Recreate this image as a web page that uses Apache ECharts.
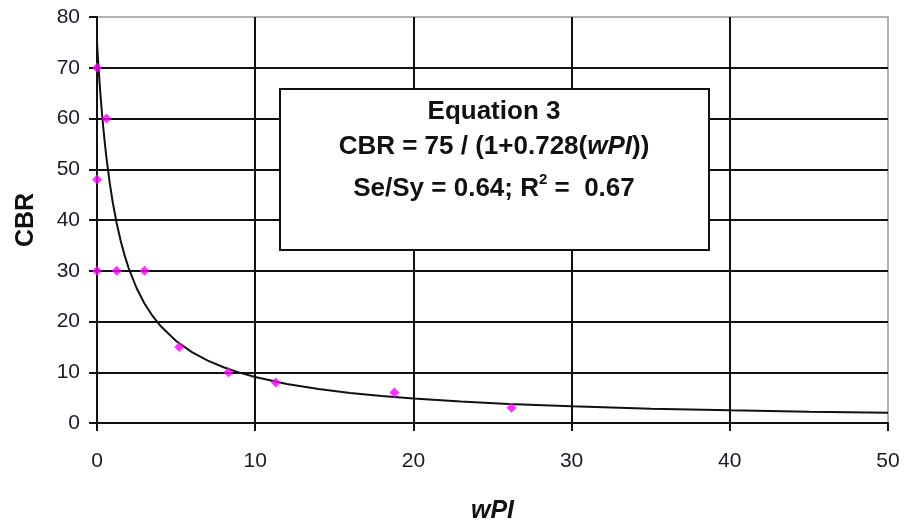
<!DOCTYPE html>
<html>
<head>
<meta charset="utf-8">
<script src="https://cdn.jsdelivr.net/npm/echarts@6/dist/echarts.min.js"></script>
<style>html,body{margin:0;padding:0;background:#fff;}#c{width:904px;height:525px;}</style>
</head>
<body>
<div id="c"></div>
<script>
// Measured data points (wPI, CBR)
var pointsX = [0, 0.6, 0, 0, 1.25, 3, 5.2, 8.3, 11.3, 18.8, 26.2];
var pointsY = [70, 60, 48, 30, 30, 30, 15, 10, 8, 6, 3];
// Fitted curve (Equation 3)
var curveX = [0, 0.05, 0.1, 0.2, 0.3, 0.4, 0.5, 0.6, 0.8, 1, 1.25, 1.5, 1.75, 2, 2.5, 3, 3.5, 4, 5, 6, 7, 8, 9, 10, 12, 14, 16, 18, 20, 23, 26, 30, 35, 40, 45, 50];
var curveY = [75, 72.37, 69.91, 65.47, 61.56, 58.09, 54.99, 52.20, 47.40, 43.40, 39.27, 35.85, 32.98, 30.54, 26.60, 23.56, 21.14, 19.17, 16.16, 13.97, 12.30, 10.99, 9.93, 9.06, 7.70, 6.70, 5.93, 5.32, 4.82, 4.23, 3.76, 3.28, 2.83, 2.49, 2.22, 2.01];
var xTicks = [0, 10, 20, 30, 40, 50];
var yTicks = [0, 10, 20, 30, 40, 50, 60, 70, 80];

var FONT = "'Liberation Sans', Arial, sans-serif";
var chart = echarts.init(document.getElementById('c'));
var pts = pointsX.map(function (x, i) { return [x, pointsY[i]]; });
var crv = curveX.map(function (x, i) { return [x, curveY[i]]; });

chart.setOption({
  animation: false,
  backgroundColor: '#fff',
  grid: { left: 97, right: 16, top: 17, bottom: 102, containLabel: false, outerBoundsMode: 'none',
          show: true, borderColor: '#999', borderWidth: 1.5, backgroundColor: 'transparent' },
  xAxis: {
    type: 'value', min: xTicks[0], max: xTicks[xTicks.length - 1], interval: 10,
    name: 'wPI', nameLocation: 'middle', nameGap: 76,
    nameTextStyle: { fontFamily: FONT, fontSize: 25, fontWeight: 'bold', fontStyle: 'italic', color: '#111' },
    axisLine: { show: true, lineStyle: { color: '#111', width: 2 } },
    axisTick: { show: true, inside: false, length: 8, lineStyle: { color: '#111', width: 2 } },
    axisLabel: { margin: 28, fontFamily: FONT, fontSize: 21, color: '#1a1a2a' },
    splitLine: { show: true, showMaxLine: false, lineStyle: { color: '#111', width: 2 } }
  },
  yAxis: {
    type: 'value', min: yTicks[0], max: yTicks[yTicks.length - 1], interval: 10,
    name: 'CBR', nameLocation: 'middle', nameGap: 58, nameRotate: 90,
    nameTextStyle: { fontFamily: FONT, fontSize: 25, fontWeight: 'bold', color: '#111' },
    axisLine: { show: true, lineStyle: { color: '#111', width: 2 } },
    axisTick: { show: true, inside: false, length: 8, lineStyle: { color: '#111', width: 2 } },
    axisLabel: { margin: 17, fontFamily: FONT, fontSize: 21, color: '#1a1a2a' },
    splitLine: { show: true, showMaxLine: false, lineStyle: { color: '#111', width: 2 } }
  },
  series: [
    {
      type: 'line', data: crv, smooth: false, showSymbol: false,
      lineStyle: { color: '#111', width: 2 }, z: 3, clip: false
    },
    {
      type: 'scatter', data: pts, symbol: 'diamond', symbolSize: 10,
      itemStyle: { color: '#ff00ff' }, z: 4, clip: false
    }
  ],
  graphic: [
    {
      type: 'rect', left: 279, top: 88, z: 100,
      shape: { width: 429, height: 161 },
      style: { fill: '#fff', stroke: '#111', lineWidth: 2 }
    },
    {
      type: 'text', x: 494, y: 112, z: 101,
      style: { text: 'Equation 3', font: "bold 26px " + FONT, fill: '#111', textAlign: 'center', textVerticalAlign: 'middle' }
    },
    {
      type: 'text', x: 494, y: 147, z: 101,
      style: {
        text: '{a|CBR = 75 / (1+0.728(}{b|wPI}{a|))}',
        textAlign: 'center', textVerticalAlign: 'middle',
        rich: {
          a: { font: "bold 26px " + FONT, fill: '#111' },
          b: { font: "italic bold 26px " + FONT, fill: '#111' }
        }
      }
    },
    {
      type: 'text', x: 494, y: 187, z: 101,
      style: {
        text: '{a|Se/Sy = 0.64; R}{s|2}{a| =  0.67}',
        textAlign: 'center', textVerticalAlign: 'middle',
        rich: {
          a: { font: "bold 26px " + FONT, fill: '#111', verticalAlign: 'bottom', lineHeight: 30 },
          s: { font: "bold 15px " + FONT, fill: '#111', verticalAlign: 'top', lineHeight: 30, padding: [0, 0, 14, 0] }
        }
      }
    }
  ]
});
</script>
</body>
</html>
